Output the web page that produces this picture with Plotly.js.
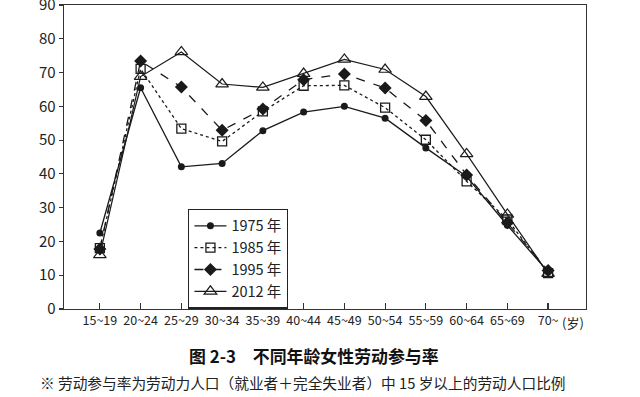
<!DOCTYPE html>
<html>
<head>
<meta charset="utf-8">
<script src="https://cdn.plot.ly/plotly-3.0.1.min.js"></script>
<style>html,body{margin:0;padding:0;background:#fff;}#chart{width:640px;height:397px;}</style>
</head>
<body>
<div id="chart"></div>
<script>
const ageGroups = ["15~19","20~24","25~29","30~34","35~39","40~44","45~49","50~54","55~59","60~64","65~69","70~"];
const rate1975 = [22.5, 65.5, 42.1, 43.1, 52.8, 58.3, 60.0, 56.5, 47.7, 39.2, 24.8, 11.0];
const rate1985 = [18.0, 71.1, 53.4, 49.6, 58.5, 66.1, 66.2, 59.6, 50.1, 37.8, 26.5, 10.6];
const rate1995 = [17.8, 73.4, 65.7, 52.9, 59.2, 67.9, 69.6, 65.4, 55.8, 39.7, 25.5, 11.4];
const rate2012 = [16.0, 68.8, 76.1, 66.6, 65.6, 69.7, 73.9, 70.9, 62.9, 45.9, 28.0, 10.5];
const seriesNames = ["1975 年","1985 年","1995 年","2012 年"];

const font = '"Noto Sans CJK SC", "Noto Sans", sans-serif';
const ink = '#1a1a1a';
const traces = [
  {y: rate1975, name: seriesNames[0], line:{color:ink,width:1.3,dash:'solid'}, marker:{symbol:'circle',size:7,color:ink}},
  {y: rate1985, name: seriesNames[1], line:{color:ink,width:1.3,dash:'dot'}, marker:{symbol:'square-open',size:9,color:ink,line:{width:1.3}}},
  {y: rate1995, name: seriesNames[2], line:{color:ink,width:1.3,dash:'dash'}, marker:{symbol:'diamond',size:10,color:ink}},
  {y: rate2012, name: seriesNames[3], line:{color:ink,width:1.2,dash:'solid'}, marker:{symbol:'triangle-up-open',size:11,color:ink,line:{width:1.2}}}
].map(t => Object.assign({type:'scatter', mode:'lines+markers', x: ageGroups, cliponaxis:false}, t));

const layout = {
  width: 640, height: 397,
  margin: {l: 64, r: 54, t: 5, b: 88},
  paper_bgcolor: '#fff', plot_bgcolor: '#fff',
  font: {family: font, color: '#222'},
  showlegend: true,
  legend: {x: 0.238, y: 0.33, xanchor:'left', yanchor:'top', bgcolor:'#fff', bordercolor:'#222', borderwidth:1.2,
           font:{size:14.5, family:font, color:'#222'}, tracegroupgap:0, itemwidth:32, entrywidth:112, entrywidthmode:'pixels'},
  xaxis: {type:'category', range:[-0.88, 11.93], showline:true, linecolor:'#333', linewidth:1.3, mirror:true,
          ticks:'inside', ticklen:6, tickcolor:'#333', tickwidth:1.2, showgrid:false, zeroline:false,
          tickangle:0, tickfont:{size:12.5, family:font, color:'#222'}},
  yaxis: {range:[0, 90], dtick:10, showline:true, linecolor:'#333', linewidth:1.3, mirror:true,
          ticks:'outside', ticklen:4, tickcolor:'#333', tickwidth:1.2, showgrid:false, zeroline:false,
          ticklabeloverflow:'allow', tickfont:{size:15, family:font, color:'#222'}},
  annotations: [
    {text:'(岁)', xref:'paper', yref:'paper', x:1.0, y:-0.005, xanchor:'right', yanchor:'top', showarrow:false,
     font:{size:13, family:font, color:'#222'}},
    {text:'<b>图 2-3　不同年龄女性劳动参与率</b>', xref:'paper', yref:'paper', x:0.236, y:-0.104, xanchor:'left', yanchor:'top', showarrow:false,
     font:{size:16.9, family:font, color:'#111'}},
    {text:'※ 劳动参与率为劳动力人口（就业者＋完全失业者）中 15 岁以上的劳动人口比例', xref:'paper', yref:'paper', x:-0.05, y:-0.2, xanchor:'left', yanchor:'top', showarrow:false,
     font:{size:14.7, family:font, color:'#222'}}
  ]
};
Plotly.newPlot('chart', traces, layout, {displayModeBar:false, staticPlot:true});
</script>
</body>
</html>
